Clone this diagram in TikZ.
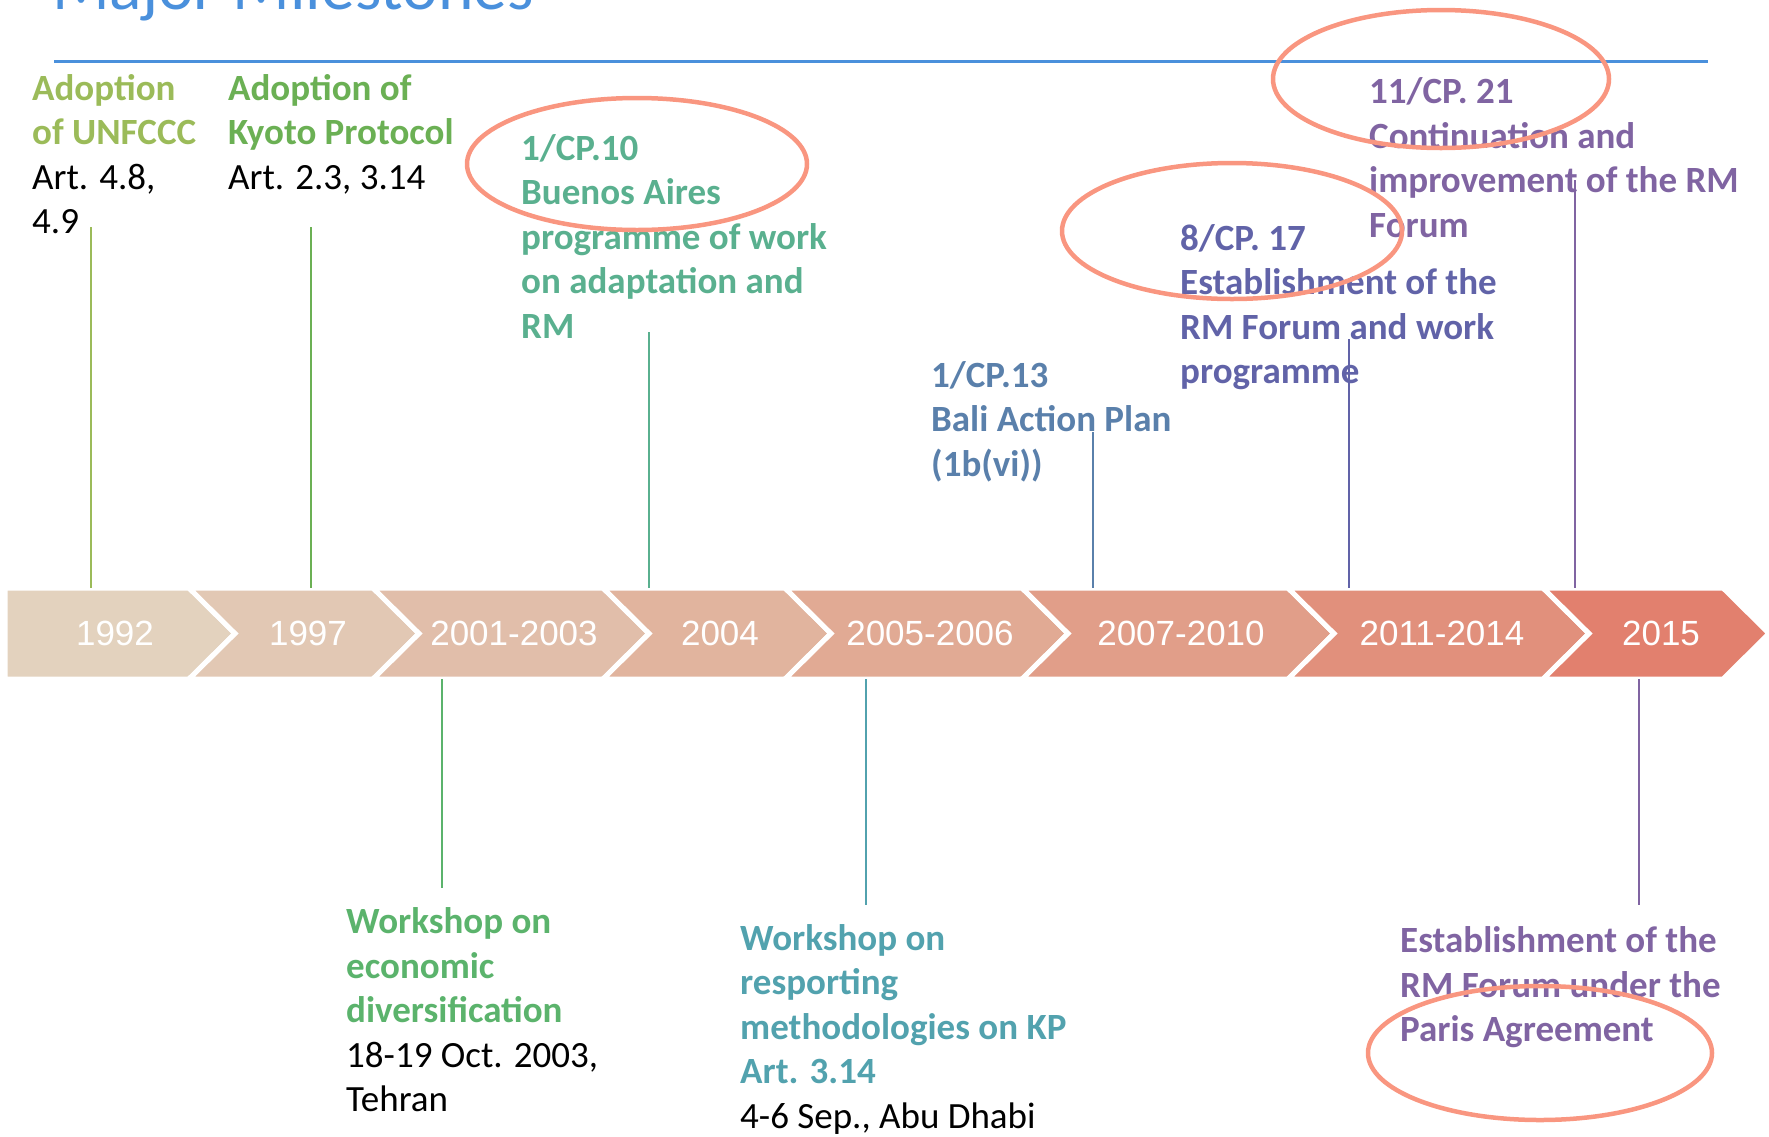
\documentclass[tikz,border=0pt]{standalone}
\usepackage{fontspec}
\setmainfont{Carlito}
\newfontfamily\yearfont{Liberation Sans}
\definecolor{titleblue}{RGB}{74,144,220}
\definecolor{g1}{RGB}{155,187,89}
\definecolor{g2}{RGB}{107,176,84}
\definecolor{t1}{RGB}{90,176,143}
\definecolor{g3}{RGB}{91,179,108}
\definecolor{t2}{RGB}{82,162,174}
\definecolor{bl}{RGB}{90,128,171}
\definecolor{ind}{RGB}{97,99,168}
\definecolor{pur}{RGB}{128,100,162}
\definecolor{salmon}{RGB}{249,150,128}
\definecolor{b1}{RGB}{227,210,190}
\definecolor{b2}{RGB}{226,200,180}
\definecolor{b3}{RGB}{225,190,170}
\definecolor{b4}{RGB}{225,180,158}
\definecolor{b5}{RGB}{225,170,148}
\definecolor{b6}{RGB}{225,158,137}
\definecolor{b7}{RGB}{225,144,124}
\definecolor{b8}{RGB}{226,128,110}
\begin{document}
\begin{tikzpicture}[x=1pt,y=-1pt,
  txt/.style={anchor=base west, inner sep=0, align=left, font=\fontsize{37}{44.5}\selectfont},
  btxt/.style={txt, font=\bfseries\fontsize{37}{44.5}\selectfont},
  yr/.style={text=white, font=\yearfont\fontsize{35}{40}\selectfont, inner sep=0},
  conn/.style={line width=2},
  ring/.style={draw=salmon, line width=4.5}]
\useasboundingbox (0,0) rectangle (1769,1136);
\clip (0,0) rectangle (1769,1136);

% title and rule
\node[anchor=base west, inner sep=0, text=titleblue, font=\fontsize{67.5}{80}\selectfont] (title) at (52,9) {Major Milestones};
\draw[titleblue, line width=3] (54,61) -- (1708,61);

% chevron band
\foreach \i/\L/\R/\nd/\cx/\lab in {1/5/189/0/115/1992, 2/189/373/46/308/1997, 3/373/603/46/514/2001-2003, 4/603/785/46/720/2004, 5/785/1022/46/930/2005-2006, 6/1022/1288/46/1181/2007-2010, 7/1288/1543/46/1442/2011-2014, 8/1543/1723/46/1661/2015}{
  \fill[b\i, draw=white, line width=5] (\L,588) -- (\R,588) -- (\R+46,633.5) -- (\R,679) -- (\L,679) -- (\L+\nd,633.5) -- cycle;
  \node[yr] (y\i) at (\cx,633.5) {\lab};
}

% top texts (anchor = baseline of last line)
\node[txt] (unf) at (32,233.5) {{\bfseries\color{g1}Adoption}\\{\bfseries\color{g1}of UNFCCC}\\Art. 4.8,\\4.9};
\node[txt] (kyo) at (228,189) {{\bfseries\color{g2}Adoption of}\\{\bfseries\color{g2}Kyoto Protocol}\\Art. 2.3, 3.14};
\node[btxt, text=t1] (cp10) at (521,338) {1/CP.10\\Buenos Aires\\programme of work\\on adaptation and\\RM};
\node[btxt, text=bl] (cp13) at (931,476) {1/CP.13\\Bali Action Plan\\(1b(vi))};
\node[btxt, text=ind] (cp17) at (1180,383.5) {8/CP. 17\\Establishment of the\\RM Forum and work\\programme};
\node[btxt, text=pur] (cp21) at (1369,237) {11/CP. 21\\Continuation and\\improvement of the RM\\Forum};

% bottom texts
\node[txt] (ws1) at (346,1111.5) {{\bfseries\color{g3}Workshop on}\\{\bfseries\color{g3}economic}\\{\bfseries\color{g3}diversification}\\18-19 Oct. 2003,\\Tehran};
\node[txt] (ws2) at (740,1128) {{\bfseries\color{t2}Workshop on}\\{\bfseries\color{t2}resporting}\\{\bfseries\color{t2}methodologies on KP}\\{\bfseries\color{t2}Art. 3.14}\\4-6 Sep., Abu Dhabi};
\node[btxt, text=pur] (pa) at (1400,1041.5) {Establishment of the\\RM Forum under the\\Paris Agreement};

% connectors
\coordinate (c1a) at (90.5,227);  \coordinate (c1b) at (90.5,588);
\coordinate (c2a) at (311,227);   \coordinate (c2b) at (311,588);
\coordinate (c3a) at (649,332);   \coordinate (c3b) at (649,588);
\coordinate (c4a) at (1093,432);  \coordinate (c4b) at (1093,588);
\coordinate (c5a) at (1349,339);  \coordinate (c5b) at (1349,588);
\coordinate (c6a) at (1575,180);  \coordinate (c6b) at (1575,588);
\coordinate (c7a) at (442,679);   \coordinate (c7b) at (442,888);
\coordinate (c8a) at (866,679);   \coordinate (c8b) at (866,905);
\coordinate (c9a) at (1639,679);  \coordinate (c9b) at (1639,905);
\draw[conn, g1] (c1a) -- (c1b);
\draw[conn, g2] (c2a) -- (c2b);
\draw[conn, t1] (c3a) -- (c3b);
\draw[conn, bl] (c4a) -- (c4b);
\draw[conn, ind] (c5a) -- (c5b);
\draw[conn, pur] (c6a) -- (c6b);
\draw[conn, g3] (c7a) -- (c7b);
\draw[conn, t2] (c8a) -- (c8b);
\draw[conn, pur] (c9a) -- (c9b);

% highlight ellipses
\draw[ring] (637,164) ellipse [x radius=170, y radius=66];
\draw[ring] (1232,231) ellipse [x radius=170, y radius=68];
\draw[ring] (1441,79) ellipse [x radius=168, y radius=69];
\draw[ring] (1540,1053) ellipse [x radius=172, y radius=67];
\end{tikzpicture}
\end{document}
